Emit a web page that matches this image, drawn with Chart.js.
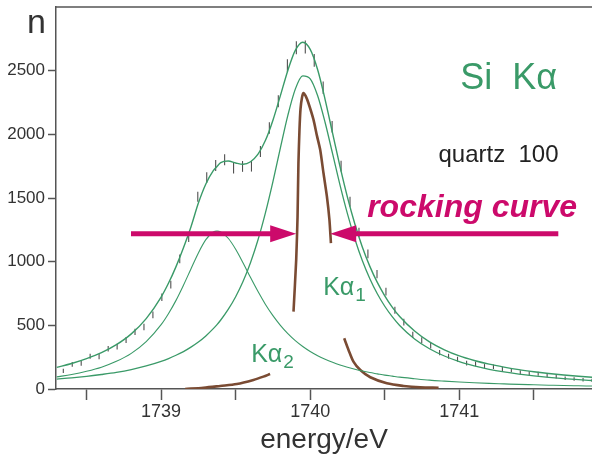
<!DOCTYPE html>
<html><head><meta charset="utf-8">
<script src="https://cdn.jsdelivr.net/npm/chart.js@4/dist/chart.umd.min.js"></script>
<style>html,body{margin:0;padding:0;background:#fff}#wrap{width:592px;height:463px}</style>
</head><body><div id="wrap"><canvas id="c" width="592" height="463"></canvas></div>
<script>
// ---- data ----
const fitEnergy = [1738.3,1738.4,1738.5,1738.6,1738.7,1738.8,1738.9,1739.0,1739.05,1739.1,1739.15,1739.2,1739.25,1739.3,1739.35,1739.375,1739.4,1739.45,1739.5,1739.55,1739.6,1739.65,1739.7,1739.75,1739.8,1739.85,1739.9,1739.95,1740.0,1740.05,1740.1,1740.15,1740.2,1740.25,1740.3,1740.35,1740.4,1740.45,1740.5,1740.55,1740.6,1740.7,1740.8,1740.9,1741.0,1741.1,1741.2,1741.3,1741.4,1741.5,1741.6,1741.7,1741.8,1741.9];
const totalFit = [170,200,238,285,348,433,553,722,832,961,1109,1272,1460,1610,1715,1748,1778,1790,1775,1765,1785,1844,1953,2111,2304,2502,2659,2723,2667,2507,2273,2009,1746,1505,1294,1114,963,837,732,643,569,455,370,308,260,224,195,172,152,136,122,110,100,92];
const ka1Fit = [78,87,99,114,131,153,181,217,239,265,294,329,369,417,474,506,542,625,725,846,994,1172,1385,1629,1893,2149,2355,2459,2436,2303,2093,1848,1601,1375,1176,1007,866,748,650,568,499,393,316,259,215,182,155,134,117,103,91,81,73,66];
const ka2Fit = [95,114,139,171,217,280,372,505,593,696,815,943,1069,1173,1233,1240,1233,1184,1098,990,875,765,664,576,500,435,380,334,295,262,234,210,189,171,155,141,129,119,109,101,93,81,70,62,55,49,44,40,36,33,30,27,25,23];

const dataEnergy = [1738.344,1738.404,1738.464,1738.524,1738.584,1738.645,1738.705,1738.765,1738.825,1738.885,1738.945,1739.005,1739.065,1739.125,1739.185,1739.246,1739.306,1739.366,1739.426,1739.486,1739.546,1739.606,1739.666,1739.726,1739.786,1739.847,1739.907,1739.967,1740.027,1740.087,1740.147,1740.207,1740.267,1740.327,1740.387,1740.448,1740.508,1740.568,1740.628,1740.688,1740.748,1740.808,1740.868,1740.928,1740.988,1741.049,1741.109,1741.169,1741.229,1741.289,1741.349,1741.409,1741.469,1741.529,1741.589,1741.650,1741.710,1741.770,1741.830,1741.890];
const dataCounts = [142,194,202,257,254,317,333,385,448,487,582,721,820,1022,1191,1510,1660,1755,1800,1735,1748,1750,1865,2050,2260,2540,2680,2685,2580,2366,2060,1750,1470,1230,1061,902,765,619,525,425,383,340,285,257,234,204,197,178,175,157,149,131,123,120,108,97,84,79,73,68];

const rockLowE  = [1739.161,1739.284,1739.396,1739.508,1739.619,1739.686,1739.731];
const rockLowN  = [0,10,24,39,71,97,118];
const rockPeakE = [1739.888,1739.906,1739.915,1739.921,1739.928,1739.935,1739.945,1739.955,1739.970,1739.988,1740.022,1740.045,1740.067,1740.089,1740.112,1740.129,1740.139];
const rockPeakN = [608,1014,1350,1774,2036,2200,2290,2325,2300,2246,2115,1990,1879,1696,1512,1329,1145];
const rockTailE = [1740.228,1740.257,1740.290,1740.336,1740.403,1740.514,1740.626,1740.738,1740.861];
const rockTailN = [398,307,215,149,92,45,24,13,10];

const yTickValues = [0,500,1000,1500,2000,2500];
const xTickValues = [1738.5,1739,1739.5,1740,1740.5,1741,1741.5];
const xTickLabels = [1739,1740,1741];

// ---- styles ----
const GREEN = '#3a9a68';
const MAGENTA = '#cc0a6b';
const BROWN = '#7a4b33';
const AXIS = '#555';
const FONT = "'Liberation Sans', Arial, sans-serif";

const pts = (xs, ys) => xs.map((x, i) => ({x, y: ys[i]}));

const lineDs = (data, width, color) => ({
  data, showLine: true, borderColor: color, borderWidth: width,
  pointRadius: 0, cubicInterpolationMode: 'monotone', fill: false
});

const annotationPlugin = {
  id: 'annot',
  afterDatasetsDraw(chart) {
    const {ctx, chartArea: ca, scales: {x, y}} = chart;
    ctx.save();
    ctx.strokeStyle = AXIS; ctx.lineWidth = 1.5;
    ctx.beginPath(); ctx.moveTo(ca.left, ca.top); ctx.lineTo(ca.right, ca.top); ctx.stroke();

    const txt = (s, e, n, font, color) => {
      ctx.font = font; ctx.fillStyle = color; ctx.textBaseline = 'alphabetic'; ctx.textAlign = 'left';
      ctx.fillText(s, x.getPixelForValue(e), y.getPixelForValue(n));
    };
    const sub = (main, s, e, n, font, subFont, color, drop) => {
      ctx.font = font; ctx.fillStyle = color; ctx.textBaseline = 'alphabetic'; ctx.textAlign = 'left';
      const px = x.getPixelForValue(e), py = y.getPixelForValue(n);
      ctx.fillText(main, px, py);
      const w = ctx.measureText(main).width;
      ctx.font = subFont; ctx.fillText(s, px + w + 1, py + drop);
    };
    ctx.font = '34px ' + FONT; ctx.fillStyle = '#333'; ctx.textAlign = 'left'; ctx.textBaseline = 'alphabetic';
    ctx.fillText('n', ca.left - 29, ca.top + 26);

    txt('Si  K\u03b1', 1741.006, 2358, '36px ' + FONT, GREEN);
    txt('quartz  100', 1740.86, 1785, '24px ' + FONT, '#222');
    txt('rocking curve', 1740.382, 1352, 'italic bold 32px ' + FONT, MAGENTA);
    sub('K\u03b1', '1', 1740.087, 739, '25px ' + FONT, '19px ' + FONT, GREEN, 6);
    sub('K\u03b1', '2', 1739.604, 212, '25px ' + FONT, '19px ' + FONT, GREEN, 6);

    const arrow = (e0, e1, n) => {
      const x0 = x.getPixelForValue(e0), x1 = x.getPixelForValue(e1), py = y.getPixelForValue(n);
      const dir = Math.sign(x1 - x0), head = 26, half = 8.5;
      ctx.strokeStyle = MAGENTA; ctx.fillStyle = MAGENTA; ctx.lineWidth = 5; ctx.lineCap = 'butt';
      ctx.beginPath(); ctx.moveTo(x0, py); ctx.lineTo(x1 - dir * (head - 2), py); ctx.stroke();
      ctx.beginPath(); ctx.moveTo(x1, py); ctx.lineTo(x1 - dir * head, py - half); ctx.lineTo(x1 - dir * head, py + half); ctx.closePath(); ctx.fill();
    };
    arrow(1738.798, 1739.906, 1219);
    arrow(1741.664, 1740.134, 1219);
    ctx.restore();
  }
};

new Chart(document.getElementById('c'), {
  type: 'scatter',
  data: {
    datasets: [
      lineDs(pts(fitEnergy, ka2Fit), 1.1, GREEN),
      lineDs(pts(fitEnergy, ka1Fit), 1.3, GREEN),
      lineDs(pts(fitEnergy, totalFit), 1.4, GREEN),
      {
        data: pts(dataEnergy, dataCounts), showLine: false,
        pointStyle: 'line', rotation: 90,
        pointRadius: c => 0.8 + 0.11 * Math.sqrt(Math.max(c.raw ? c.raw.y : 0, 0)),
        pointBorderColor: '#505050', pointBorderWidth: 1.1, pointBackgroundColor: '#505050'
      },
      Object.assign(lineDs(pts(rockLowE, rockLowN), 2.6, BROWN), {cubicInterpolationMode: 'default', tension: 0.3}),
      Object.assign(lineDs(pts(rockPeakE, rockPeakN), 2.6, BROWN), {cubicInterpolationMode: 'default', tension: 0.2}),
      Object.assign(lineDs(pts(rockTailE, rockTailN), 2.6, BROWN), {cubicInterpolationMode: 'default', tension: 0.3})
    ]
  },
  options: {
    responsive: false, animation: false, devicePixelRatio: 1,
    layout: {autoPadding: false, padding: {top: 7, left: 0, right: 0, bottom: 0}},
    plugins: {legend: {display: false}, tooltip: {enabled: false}},
    scales: {
      x: {
        type: 'linear', min: 1738.295, max: 1741.89,
        afterBuildTicks: s => { s.ticks = xTickValues.map(v => ({value: v})); },
        afterFit: s => { s.height = 74; s.paddingLeft = 0; s.paddingRight = 0; },
        ticks: {
          autoSkip: false, maxRotation: 0, padding: 1, color: '#333',
          font: {family: FONT, size: 18},
          callback: v => xTickLabels.includes(v) ? String(v) : ''
        },
        grid: {drawOnChartArea: false, drawTicks: true, tickLength: 11, color: AXIS, tickWidth: 1.5},
        border: {display: true, color: AXIS, width: 1.5},
        title: {display: true, text: 'energy/eV', color: '#333', font: {family: FONT, size: 28}, padding: {top: 0, bottom: 6}}
      },
      y: {
        type: 'linear', min: 0, max: 3000,
        afterBuildTicks: s => { s.ticks = yTickValues.map(v => ({value: v})); },
        afterFit: s => { s.width = 56; s.paddingTop = 0; s.paddingBottom = 0; },
        ticks: {padding: 3, color: '#333', font: {family: FONT, size: 17}, callback: v => String(v)},
        grid: {drawOnChartArea: false, drawTicks: true, tickLength: 8, color: AXIS, tickWidth: 1.5},
        border: {display: true, color: AXIS, width: 1.5}
      }
    }
  },
  plugins: [annotationPlugin]
});
</script></body></html>
